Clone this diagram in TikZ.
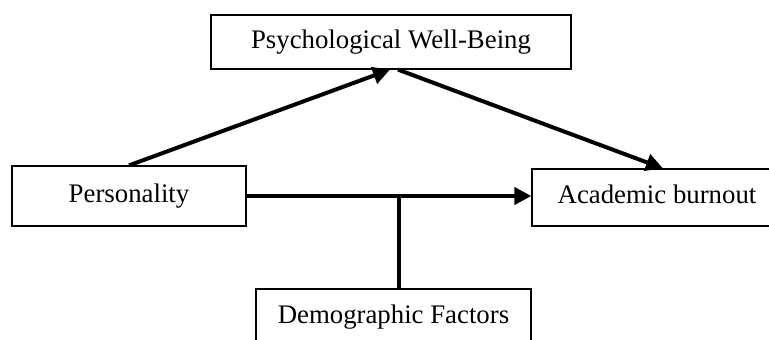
\documentclass[tikz,border=0pt]{standalone}
\usepackage{fontspec}
\setmainfont{Liberation Serif}
\usetikzlibrary{arrows.meta,calc}
\begin{document}
\begin{tikzpicture}[x=1pt,y=-1pt,
  box/.style={draw=black,line width=1.2pt,fill=white,inner sep=0pt,
    font=\fontsize{26.8}{30}\selectfont,text height=18pt,text depth=6pt},
  conn/.style={line width=4pt,-{Triangle[length=17pt,width=17pt]}},
  link/.style={line width=4pt}]
\useasboundingbox (0,0) rectangle (769,340);
\clip (0,0) rectangle (769,340);
\node[box,minimum width=360pt,minimum height=54pt] (pwb) at (391,42) {Psychological Well-Being};
\node[box,minimum width=234pt,minimum height=60pt] (pers) at (129,196) {Personality};
\node[box,minimum width=250pt,minimum height=57pt] (ab) at (657,197.5) {Academic burnout};
\node[box,minimum width=275pt,minimum height=56pt] (df) at (393.5,317) {Demographic Factors};
\coordinate (j) at (399,196);
\draw[conn] (pers.north) -- ([xshift=-1pt]pwb.south);
\draw[conn] ([xshift=7pt]pwb.south) -- ([xshift=6pt]ab.north);
\draw[conn] (pers.east) -- (pers.east -| ab.west);
\draw[link] (j) -- (j |- df.north);
\end{tikzpicture}
\end{document}
